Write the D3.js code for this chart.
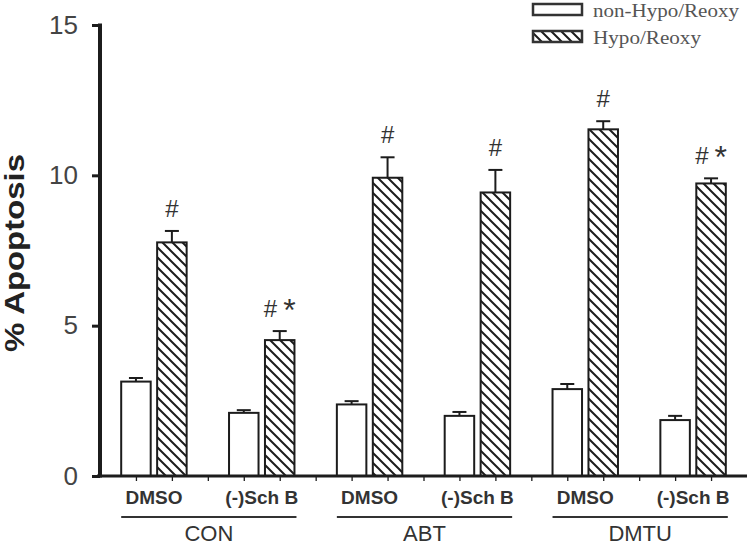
<!DOCTYPE html>
<html>
<head>
<meta charset="utf-8">
<script src="https://cdn.jsdelivr.net/npm/d3@7/dist/d3.min.js"></script>
<style>
  html, body { margin: 0; padding: 0; background: #fff; }
  svg { display: block; }
</style>
</head>
<body>
<svg id="chart" width="747" height="545"></svg>
<script>
// ---- data ----
const groups = ["CON", "ABT", "DMTU"];
const treatments = ["DMSO", "(-)Sch B"];
const seriesNames = ["non-Hypo/Reoxy", "Hypo/Reoxy"];
// order: CON DMSO, CON SchB, ABT DMSO, ABT SchB, DMTU DMSO, DMTU SchB
const nonHypoValues = [3.14, 2.10, 2.38, 2.00, 2.89, 1.86];
const nonHypoErrors = [0.12, 0.09, 0.11, 0.13, 0.17, 0.14];
const hypoValues = [7.77, 4.52, 9.92, 9.43, 11.53, 9.73];
const hypoErrors = [0.38, 0.30, 0.68, 0.75, 0.27, 0.17];
const hypoMarks = ["#", "# *", "#", "#", "#", "# *"];
const yTicks = [0, 5, 10, 15];

// ---- layout ----
const svg = d3.select("#chart");
const x = d3.scaleLinear().domain([0, 18]).range([100, 747]);
const y = d3.scaleLinear().domain([0, 15]).range([476, 25]);
const barW = 29.5;
const ink = "#1c1c1c";
const textCol = "#333";

// hatch pattern
const defs = svg.append("defs");
const pat = defs.append("pattern")
  .attr("id", "hatch").attr("patternUnits", "userSpaceOnUse")
  .attr("width", 10).attr("height", 10);
pat.append("rect").attr("width", 10).attr("height", 10).attr("fill", "#fff");
pat.append("path")
  .attr("d", "M-2.5,-2.5 L12.5,12.5 M-2.5,7.5 L2.5,12.5 M7.5,-2.5 L12.5,2.5")
  .attr("stroke", ink).attr("stroke-width", 2);

// build bar records
const bars = [];
nonHypoValues.forEach((v, i) => {
  bars.push({ slot: 1 + 3 * i, value: v, err: nonHypoErrors[i], series: 0, mark: "" });
  bars.push({ slot: 2 + 3 * i, value: hypoValues[i], err: hypoErrors[i], series: 1, mark: hypoMarks[i] });
});

// error bars (upper only)
const eb = svg.append("g");
bars.forEach(d => {
  const cx = x(d.slot);
  eb.append("line").attr("x1", cx).attr("x2", cx)
    .attr("y1", y(d.value)).attr("y2", y(d.value + d.err))
    .attr("stroke", ink).attr("stroke-width", 2);
  eb.append("line").attr("x1", cx - 7).attr("x2", cx + 7)
    .attr("y1", y(d.value + d.err)).attr("y2", y(d.value + d.err))
    .attr("stroke", ink).attr("stroke-width", 2);
});

// bars
svg.append("g").selectAll("rect").data(bars).join("rect")
  .attr("x", d => x(d.slot) - barW / 2)
  .attr("y", d => y(d.value))
  .attr("width", barW)
  .attr("height", d => y(0) - y(d.value))
  .attr("fill", d => d.series === 0 ? "#fff" : "url(#hatch)")
  .attr("stroke", ink).attr("stroke-width", 2);

// significance marks
svg.append("g").selectAll("text").data(bars.filter(d => d.mark)).join("text")
  .attr("x", d => x(d.slot))
  .attr("y", d => y(d.value + d.err) - 14)
  .attr("text-anchor", "middle")
  .attr("font-family", "Liberation Sans, Arial, sans-serif")
  .attr("font-size", 24)
  .attr("fill", textCol)
  .each(function (d) {
    const t = d3.select(this);
    d.mark.split(" ").forEach((m, j) => {
      t.append("tspan").text(m)
        .attr("dx", j > 0 ? 6 : 0)
        .attr("font-size", m === "*" ? 32 : 24)
        .attr("dy", m === "*" ? 4 : 0);
    });
  });

// x axis
const xAxis = svg.append("g").attr("transform", `translate(0,${y(0)})`)
  .call(d3.axisBottom(x).tickValues(d3.range(1, 18)).tickSize(5).tickFormat(""));
xAxis.select(".domain").attr("d", `M97,0H747`).attr("stroke", ink).attr("stroke-width", 3);
xAxis.selectAll(".tick line").attr("stroke", ink).attr("stroke-width", 1.3);

// y axis
const yAxis = svg.append("g").attr("transform", `translate(${x(0)},0)`)
  .call(d3.axisLeft(y).tickValues(yTicks).tickSize(8).tickPadding(14));
yAxis.select(".domain").attr("d", `M0,${y(15) - 1.5}V${y(0) + 1.5}`)
  .attr("stroke", ink).attr("stroke-width", 4);
yAxis.selectAll(".tick line").attr("stroke", ink).attr("stroke-width", 3);
yAxis.selectAll(".tick text")
  .attr("font-family", "Liberation Sans, Arial, sans-serif")
  .attr("font-size", 26).attr("fill", "#444");

// y label
svg.append("text")
  .attr("transform", `translate(24,253) rotate(-90)`)
  .attr("text-anchor", "middle")
  .attr("font-family", "Liberation Sans, Arial, sans-serif")
  .attr("font-weight", "bold").attr("font-size", 28)
  .attr("textLength", 198).attr("lengthAdjust", "spacingAndGlyphs")
  .attr("fill", "#222")
  .text("% Apoptosis");

// treatment labels
const lab = svg.append("g")
  .attr("font-family", "Liberation Sans, Arial, sans-serif").attr("fill", textCol);
nonHypoValues.forEach((v, i) => {
  lab.append("text")
    .attr("x", x(1.5 + 3 * i)).attr("y", 504)
    .attr("text-anchor", "middle").attr("font-size", 19).attr("font-weight", "bold")
    .text(treatments[i % 2]);
});
groups.forEach((g, gi) => {
  const x0 = x(1 + 6 * gi) - barW / 2;
  const x1 = x(5 + 6 * gi) + barW / 2 + 2;
  lab.append("line").attr("x1", x0).attr("x2", x1).attr("y1", 517).attr("y2", 517)
    .attr("stroke", "#333").attr("stroke-width", 2);
  lab.append("text")
    .attr("x", (x0 + x1) / 2).attr("y", 541)
    .attr("text-anchor", "middle").attr("font-size", 22)
    .text(g);
});

// legend
const leg = svg.append("g");
const legLen = [146, 108];
seriesNames.forEach((s, i) => {
  const ly = 4 + i * 27;
  leg.append("rect").attr("x", 533).attr("y", ly).attr("width", 49).attr("height", 11)
    .attr("fill", i === 0 ? "#fff" : "url(#hatch)")
    .attr("stroke", "#333").attr("stroke-width", 2.5);
  leg.append("text").attr("x", 593).attr("y", ly + 13)
    .attr("font-family", "Liberation Serif, Times New Roman, serif")
    .attr("font-size", 18).attr("fill", "#555")
    .attr("textLength", legLen[i]).attr("lengthAdjust", "spacingAndGlyphs")
    .text(s);
});
</script>
</body>
</html>
